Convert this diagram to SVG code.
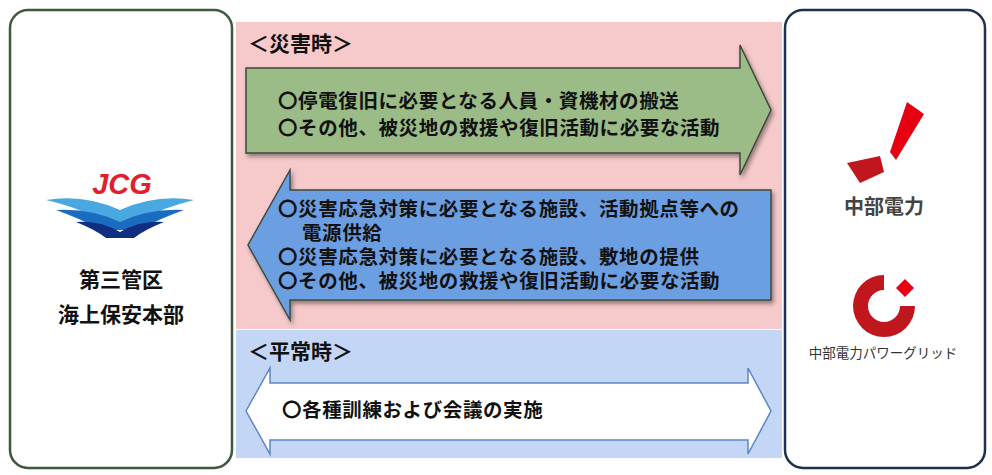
<svg xmlns="http://www.w3.org/2000/svg" width="992" height="475" viewBox="0 0 992 475">
<defs>
<style>
.t{font-family:"Noto Sans CJK JP","Noto Sans",sans-serif;font-weight:bold;font-size:19.5px;letter-spacing:0.6px;fill:#111}
.h{font-family:"Noto Sans CJK JP",sans-serif;font-weight:bold;font-size:21px;fill:#111}
.arr{stroke:#3c4a3a;stroke-width:1.5;filter:url(#sh)}
</style>
<filter id="sh" x="-5%" y="-5%" width="110%" height="115%"><feDropShadow dx="2" dy="3" stdDeviation="2" flood-opacity="0.4"/></filter>
</defs>
<rect x="236" y="22" width="546" height="307" fill="#f6c9cb"/>
<rect x="236" y="330" width="546" height="128" fill="#c4d6f6"/>
<g id="left">
<rect x="10" y="10" width="222" height="458" rx="18" fill="#fff" stroke="#3d5a3c" stroke-width="2.5"/>
<text x="122" y="194" text-anchor="middle" font-family="Liberation Sans,sans-serif" font-style="italic" font-weight="bold" font-size="29" fill="#e0202a">JCG</text>
<path d="M46 200 Q84 194 120 210 Q156 194 194 200 Q162 208 140 220 Q120 226 100 220 Q80 208 46 200Z" fill="#4aa8e0"/>
<path d="M56 210 Q90 208 120 222 Q150 208 184 210 Q156 220 140 230 L100 230 Q84 220 56 210Z" fill="#1a6cc0"/>
<path d="M76 222 Q100 220 120 232 Q140 220 164 222 Q144 230 134 238 L106 238 Q96 230 76 222Z" fill="#102f80"/>
<text x="121" y="287" text-anchor="middle" class="h" font-size="23">第三管区</text>
<text x="121" y="322" text-anchor="middle" class="h" font-size="23">海上保安本部</text>
</g>
<g id="right">
<rect x="785" y="10" width="200" height="458" rx="18" fill="#fff" stroke="#1e3250" stroke-width="2.5"/>
<polygon points="907,102 924,114 896,160 890,152" fill="#e60012"/>
<polygon points="847,163 880,156 884,172 860,183" fill="#c0161e"/>
<text x="884" y="214" text-anchor="middle" font-family="Noto Sans CJK JP,sans-serif" font-weight="bold" font-size="20" fill="#444">中部電力</text>
<path d="M884 275 A31 31 0 1 0 915 306 L900 306 A16 16 0 1 1 884 290 Z" fill="#c0161e"/>
<polygon points="896,288 905,279 914,288 905,297" fill="#e60012"/>
<text x="883" y="358" text-anchor="middle" font-family="Noto Sans CJK JP,sans-serif" font-size="13.5" fill="#333">中部電力パワーグリッド</text>
</g>
<g id="connectors">
<polygon class="arr" fill="#9bbb87" points="246,68 740,68 740,45 771,110 740,175 740,153 246,153"/>
<polygon class="arr" fill="#6c9fe2" stroke="#333" points="771,190 290,190 290,170 248,245 290,320 290,300 771,300"/>
<polygon fill="#fff" stroke="#5b86c8" stroke-width="1.5" points="246,411 270,368 270,383 748,383 748,368 771,411 748,454 748,440 270,440 270,454"/>
</g>
<g id="labels">
<text x="248" y="51" class="h">＜災害時＞</text>
<text x="248" y="359" class="h">＜平常時＞</text>
<text x="278" y="108" class="t">〇停電復旧に必要となる人員・資機材の搬送</text>
<text x="278" y="135" class="t">〇その他、被災地の救援や復旧活動に必要な活動</text>
<text x="278" y="216" class="t">〇災害応急対策に必要となる施設、活動拠点等への</text>
<text x="302" y="240" class="t">電源供給</text>
<text x="278" y="264" class="t">〇災害応急対策に必要となる施設、敷地の提供</text>
<text x="278" y="288" class="t">〇その他、被災地の救援や復旧活動に必要な活動</text>
<text x="282" y="417" class="t">〇各種訓練および会議の実施</text>
</g>
</svg>
